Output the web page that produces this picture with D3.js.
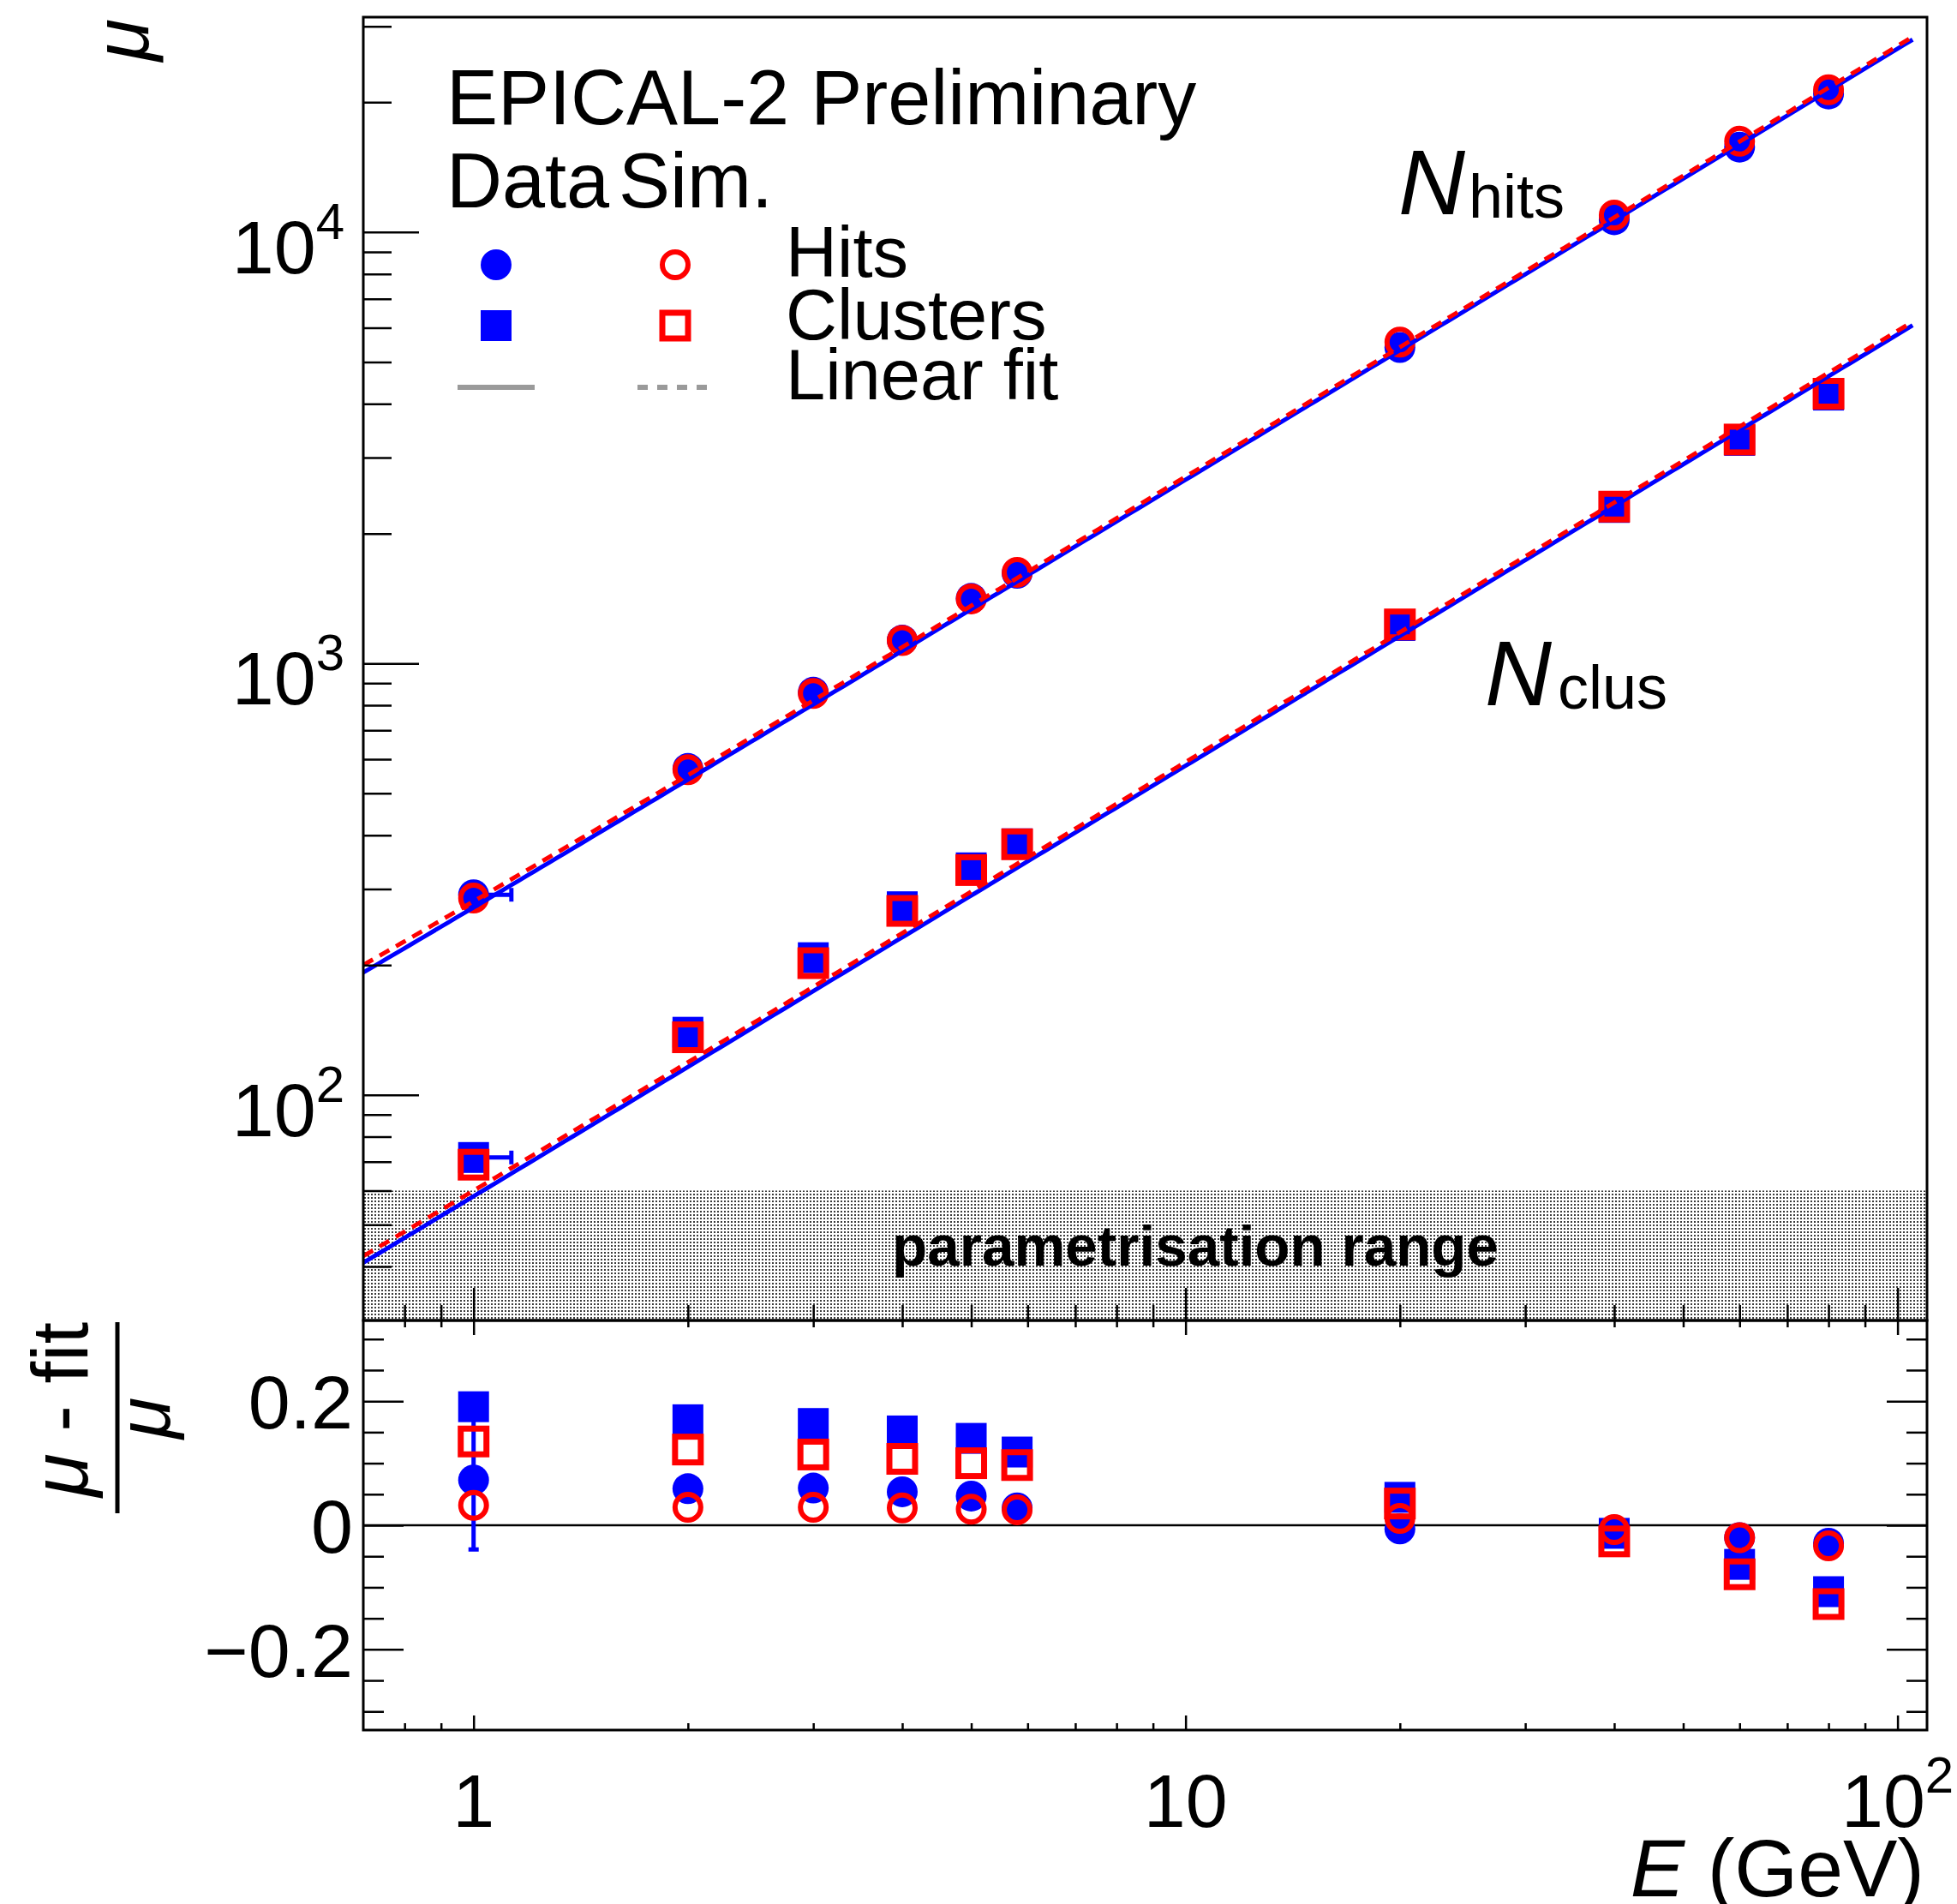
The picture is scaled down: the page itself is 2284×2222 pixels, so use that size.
<!DOCTYPE html>
<html>
<head>
<meta charset="utf-8">
<script src="https://cdn.jsdelivr.net/npm/d3@7"></script>
<style>
  html, body { margin: 0; padding: 0; background: #fff; }
  svg { display: block; }
  text { font-family: "Liberation Sans", Arial, Helvetica, sans-serif; fill: #000; }
</style>
</head>
<body>
<svg id="chart" width="2284" height="2222"></svg>
<script>
// ---- data ----------------------------------------------------------------
const energies = [1, 2, 3, 4, 5, 5.8, 20, 40, 60, 80];            // beam energy (GeV)

// mean number of hits / clusters (upper panel)
const hitsData = [291, 571, 858, 1133, 1416, 1618, 5400, 10680, 15740, 20900];
const hitsSim  = [286, 567, 852, 1130, 1412, 1627, 5560, 10950, 16240, 21380];
const clusData = [71.6, 139.7, 208, 273, 336, 382, 1225, 2300, 3290, 4190];
const clusSim  = [68.9, 136.0, 202, 267, 332, 381, 1232, 2310, 3305, 4220];

// energy uncertainty (upper side only) on the data points
const dataEnergyErrHigh = [0.13, 0, 0, 0, 0, 0, 0, 0, 0, 0];

// relative residuals (mu - fit)/mu (lower panel)
const resHitsData = [0.073, 0.059, 0.060, 0.054, 0.047, 0.028, -0.006, -0.008, -0.020, -0.029];
const resHitsSim  = [0.032, 0.029, 0.029, 0.028, 0.026, 0.025, 0.011, -0.007, -0.020, -0.033];
const resClusData = [0.191, 0.170, 0.164, 0.152, 0.140, 0.118, 0.045, -0.013, -0.063, -0.107];
const resClusSim  = [0.135, 0.122, 0.114, 0.107, 0.100, 0.097, 0.035, -0.026, -0.079, -0.127];
const resHitsDataErr = [0.112, 0, 0, 0, 0, 0, 0, 0, 0, 0];

// linear fits mu = p0 + p1*E
const fitHitsData = [6, 266];
const fitHitsSim  = [11, 270];
const fitClusData = [0.3, 57.9];
const fitClusSim  = [1.0, 59.0];
const fitRange = [0.7, 105];

// shaded region
const paramBand = [30, 60];

// axis ticks
const xMajor = [1, 10, 100];
const xMinor = [0.8, 0.9, 2, 3, 4, 5, 6, 7, 8, 9, 20, 30, 40, 50, 60, 70, 80, 90];
const yUpMajor = [100, 1000, 10000];
const yUpMinor = [40, 50, 60, 70, 80, 90, 200, 300, 400, 500, 600, 700, 800, 900,
                  2000, 3000, 4000, 5000, 6000, 7000, 8000, 9000, 20000, 30000];
const yLowMajor = [-0.2, 0, 0.2];
const yLowMinor = [-0.3, -0.25, -0.15, -0.1, -0.05, 0.05, 0.1, 0.15, 0.25, 0.3];
const yLowLabels = ["\u22120.2", "0", "0.2"];

// ---- layout --------------------------------------------------------------
const L = 424, R = 2249, T = 20, MID = 1541, B = 2019;
const BLUE = "#0000ff", RED = "#ff0000", GREY = "#9a9a9a";

const svg = d3.select("#chart");
const defs = svg.append("defs");

const x = d3.scaleLog().domain([0.7, 110]).range([L, R]);
const yUp = d3.scaleLog().domain([30, 31500]).range([MID, T]);
const yLow = d3.scaleLinear().domain([-0.33, 0.33]).range([B, MID]);

defs.append("clipPath").attr("id", "clipUp")
  .append("rect").attr("x", L).attr("y", T).attr("width", R - L).attr("height", MID - T);
defs.append("clipPath").attr("id", "clipLow")
  .append("rect").attr("x", L).attr("y", MID).attr("width", R - L).attr("height", B - MID);

// dotted fill for the shaded energy region
const pat = defs.append("pattern").attr("id", "dots")
  .attr("width", 4).attr("height", 4).attr("patternUnits", "userSpaceOnUse");
pat.append("rect").attr("width", 4).attr("height", 4).attr("fill", "#fff");
pat.append("rect").attr("x", 1).attr("y", 1).attr("width", 2).attr("height", 2).attr("fill", "#3c3c3c");

// ---- marker helpers ------------------------------------------------------
function drawMarker(g, shape, filled, cx, cy) {
  if (shape === "circle") {
    if (filled) g.append("circle").attr("cx", cx).attr("cy", cy).attr("r", 18).attr("fill", BLUE);
    else g.append("circle").attr("cx", cx).attr("cy", cy).attr("r", 15)
          .attr("fill", "none").attr("stroke", RED).attr("stroke-width", 6);
  } else {
    if (filled) g.append("rect").attr("x", cx - 18).attr("y", cy - 18)
          .attr("width", 36).attr("height", 36).attr("fill", BLUE);
    else g.append("rect").attr("x", cx - 15).attr("y", cy - 15)
          .attr("width", 30).attr("height", 30).attr("fill", "none")
          .attr("stroke", RED).attr("stroke-width", 7);
  }
}

const upperSeries = [
  { vals: hitsData, shape: "circle", filled: true,  xerr: dataEnergyErrHigh },
  { vals: clusData, shape: "square", filled: true,  xerr: dataEnergyErrHigh },
  { vals: hitsSim,  shape: "circle", filled: false, xerr: null },
  { vals: clusSim,  shape: "square", filled: false, xerr: null }
];
const lowerSeries = [
  { vals: resClusData, shape: "square", filled: true,  yerr: null },
  { vals: resHitsData, shape: "circle", filled: true,  yerr: resHitsDataErr },
  { vals: resClusSim,  shape: "square", filled: false, yerr: null },
  { vals: resHitsSim,  shape: "circle", filled: false, yerr: null }
];
const fits = [
  { p: fitHitsData, color: BLUE, dash: null },
  { p: fitClusData, color: BLUE, dash: null },
  { p: fitHitsSim,  color: RED,  dash: "13,9" },
  { p: fitClusSim,  color: RED,  dash: "13,9" }
];

// ---- upper panel ---------------------------------------------------------
const up = svg.append("g").attr("clip-path", "url(#clipUp)");

up.append("rect")
  .attr("x", L).attr("width", R - L)
  .attr("y", yUp(paramBand[1])).attr("height", yUp(paramBand[0]) - yUp(paramBand[1]))
  .attr("fill", "url(#dots)");

svg.append("text")
  .attr("x", 1041).attr("y", 1477)
  .attr("font-size", 66).attr("font-weight", "bold")
  .attr("textLength", 708).attr("lengthAdjust", "spacingAndGlyphs")
  .text("parametrisation range");

// horizontal energy error bars on data
upperSeries.filter(s => s.xerr).forEach(s => {
  energies.forEach((e, i) => {
    if (!s.xerr[i]) return;
    const y0 = yUp(s.vals[i]), x1 = x(e + s.xerr[i]);
    up.append("line").attr("x1", x(e)).attr("x2", x1).attr("y1", y0).attr("y2", y0)
      .attr("stroke", BLUE).attr("stroke-width", 5);
    up.append("line").attr("x1", x1).attr("x2", x1).attr("y1", y0 - 8).attr("y2", y0 + 8)
      .attr("stroke", BLUE).attr("stroke-width", 5);
  });
});

upperSeries.forEach(s => {
  energies.forEach((e, i) => drawMarker(up, s.shape, s.filled, x(e), yUp(s.vals[i])));
});

const fitLine = d3.line().x(d => x(d[0])).y(d => yUp(d[1]));
fits.forEach(f => {
  const lo = Math.log(fitRange[0]), hi = Math.log(fitRange[1]);
  const pts = d3.range(201).map(i => {
    const e = Math.exp(lo + (hi - lo) * i / 200);
    return [e, f.p[0] + f.p[1] * e];
  });
  up.append("path").attr("d", fitLine(pts)).attr("fill", "none")
    .attr("stroke", f.color).attr("stroke-width", 5)
    .attr("stroke-dasharray", f.dash);
});

// ---- lower panel ---------------------------------------------------------
const low = svg.append("g").attr("clip-path", "url(#clipLow)");

low.append("line").attr("x1", L).attr("x2", R).attr("y1", yLow(0)).attr("y2", yLow(0))
  .attr("stroke", "#000").attr("stroke-width", 2.5);

lowerSeries.filter(s => s.yerr).forEach(s => {
  energies.forEach((e, i) => {
    if (!s.yerr[i]) return;
    const cx = x(e), ya = yLow(s.vals[i] + s.yerr[i]), yb = yLow(s.vals[i] - s.yerr[i]);
    low.append("line").attr("x1", cx).attr("x2", cx).attr("y1", ya).attr("y2", yb)
      .attr("stroke", BLUE).attr("stroke-width", 5);
    low.append("line").attr("x1", cx - 6).attr("x2", cx + 6).attr("y1", yb).attr("y2", yb)
      .attr("stroke", BLUE).attr("stroke-width", 5);
    low.append("line").attr("x1", cx - 6).attr("x2", cx + 6).attr("y1", ya).attr("y2", ya)
      .attr("stroke", BLUE).attr("stroke-width", 5);
  });
});

lowerSeries.forEach(s => {
  energies.forEach((e, i) => drawMarker(low, s.shape, s.filled, x(e), yLow(s.vals[i])));
});

// ---- axes / ticks --------------------------------------------------------
function tickSet(gen, values, size, transform) {
  svg.append("g").attr("transform", transform)
    .call(gen.tickValues(values).tickSize(size).tickFormat(""))
    .call(s => s.select(".domain").remove())
    .call(s => s.selectAll("text").remove())
    .selectAll("line").attr("stroke", "#000").attr("stroke-width", 2.5);
}
// upper panel: bottom x ticks, left y ticks
tickSet(d3.axisBottom(x), xMajor, -38, `translate(0,${MID})`);
tickSet(d3.axisBottom(x), xMinor, -18, `translate(0,${MID})`);
tickSet(d3.axisLeft(yUp), yUpMajor, -65, `translate(${L},0)`);
tickSet(d3.axisLeft(yUp), yUpMinor, -33, `translate(${L},0)`);
// lower panel: ticks on all sides
tickSet(d3.axisTop(x), xMajor, -17, `translate(0,${MID})`);
tickSet(d3.axisTop(x), xMinor, -8, `translate(0,${MID})`);
tickSet(d3.axisBottom(x), xMajor, -17, `translate(0,${B})`);
tickSet(d3.axisBottom(x), xMinor, -8, `translate(0,${B})`);
tickSet(d3.axisLeft(yLow), yLowMajor, -47, `translate(${L},0)`);
tickSet(d3.axisLeft(yLow), yLowMinor, -24, `translate(${L},0)`);
tickSet(d3.axisRight(yLow), yLowMajor, -47, `translate(${R},0)`);
tickSet(d3.axisRight(yLow), yLowMinor, -24, `translate(${R},0)`);

// frames
svg.append("rect").attr("x", L).attr("y", T).attr("width", R - L).attr("height", MID - T)
  .attr("fill", "none").attr("stroke", "#000").attr("stroke-width", 3);
svg.append("rect").attr("x", L).attr("y", MID).attr("width", R - L).attr("height", B - MID)
  .attr("fill", "none").attr("stroke", "#000").attr("stroke-width", 3);

// ---- tick labels ---------------------------------------------------------
function powerLabel(px, py, anchor, exp) {
  const t = svg.append("text").attr("x", px).attr("y", py)
    .attr("font-size", 88).attr("text-anchor", anchor);
  t.append("tspan").text("10");
  t.append("tspan").attr("dy", -40).attr("font-size", 60).text(exp);
}
yUpMajor.forEach(v => powerLabel(402, yUp(v) + 48, "end", String(Math.round(Math.log10(v)))));

xMajor.forEach(v => {
  const lg = Math.round(Math.log10(v));
  if (lg < 2) {
    svg.append("text").attr("x", x(v)).attr("y", 2132).attr("font-size", 88)
      .attr("text-anchor", "middle").text(String(v));
  } else {
    powerLabel(x(v), 2132, "middle", String(lg));
  }
});

yLowMajor.forEach((v, i) => {
  svg.append("text").attr("x", 412).attr("y", yLow(v) + 32).attr("font-size", 88)
    .attr("text-anchor", "end").text(yLowLabels[i]);
});

// ---- axis titles ---------------------------------------------------------
const xt = svg.append("text").attr("x", 2246).attr("y", 2213).attr("font-size", 95)
  .attr("text-anchor", "end");
xt.append("tspan").attr("font-style", "italic").text("E");
xt.append("tspan").text(" (GeV)");

svg.append("text").attr("transform", "translate(173,22) rotate(-90)")
  .attr("font-size", 90).attr("font-style", "italic").attr("text-anchor", "end").text("\u03bc");

const num = svg.append("text").attr("transform", "translate(102,1543) rotate(-90)")
  .attr("font-size", 92).attr("text-anchor", "end");
num.append("tspan").attr("font-style", "italic").text("\u03bc");
num.append("tspan").text(" - fit");
svg.append("line").attr("x1", 137).attr("x2", 137).attr("y1", 1543).attr("y2", 1766)
  .attr("stroke", "#000").attr("stroke-width", 5);
svg.append("text").attr("transform", "translate(198,1655) rotate(-90)")
  .attr("font-size", 88).attr("font-style", "italic").attr("text-anchor", "middle").text("\u03bc");

// ---- annotations & legend ------------------------------------------------
svg.append("text").attr("x", 521).attr("y", 145).attr("font-size", 90).text("EPICAL-2 Preliminary");
svg.append("text").attr("x", 521).attr("y", 242).attr("font-size", 90).text("Data");
svg.append("text").attr("x", 722).attr("y", 242).attr("font-size", 90).text("Sim.");

const leg = svg.append("g");
drawMarker(leg, "circle", true, 579, 309);
drawMarker(leg, "circle", false, 788, 309);
drawMarker(leg, "square", true, 579, 380);
drawMarker(leg, "square", false, 788, 380);
leg.append("line").attr("x1", 534).attr("x2", 624).attr("y1", 452).attr("y2", 452)
  .attr("stroke", GREY).attr("stroke-width", 6);
leg.append("line").attr("x1", 744).attr("x2", 830).attr("y1", 452).attr("y2", 452)
  .attr("stroke", GREY).attr("stroke-width", 6).attr("stroke-dasharray", "12,11");
[["Hits", 323], ["Clusters", 396], ["Linear fit", 466]].forEach(([s, yy]) => {
  leg.append("text").attr("x", 917).attr("y", yy).attr("font-size", 83).text(s);
});

svg.append("text").attr("x", 1632).attr("y", 250).attr("font-size", 108)
  .attr("font-style", "italic").text("N");
svg.append("text").attr("x", 1714).attr("y", 254).attr("font-size", 72).text("hits");
svg.append("text").attr("x", 1733).attr("y", 823).attr("font-size", 108)
  .attr("font-style", "italic").text("N");
svg.append("text").attr("x", 1818).attr("y", 827).attr("font-size", 72).text("clus");
</script>
</body>
</html>
